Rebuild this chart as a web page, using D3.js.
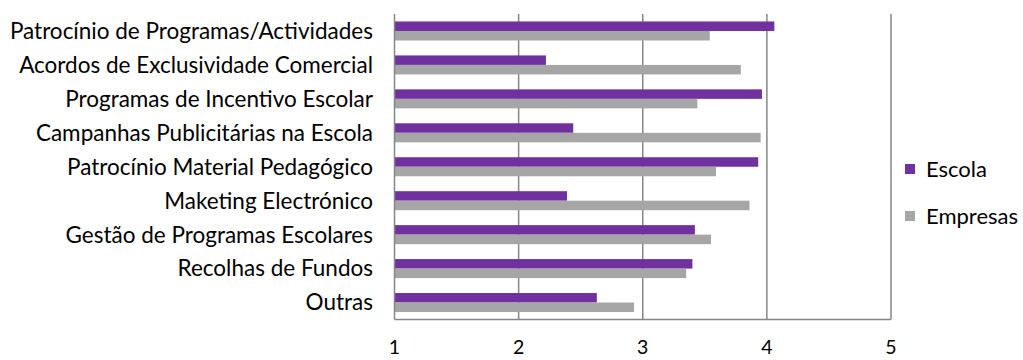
<!DOCTYPE html>
<html>
<head>
<meta charset="utf-8">
<script src="https://cdn.jsdelivr.net/npm/d3@7"></script>
<style>
  body { margin: 0; background: #fff; }
  svg { display: block; }
  text { font-family: Lato, "Open Sans", sans-serif; fill: #000; }
</style>
</head>
<body>
<svg id="chart" width="1023" height="360"></svg>
<script>
const categories = [
  "Patrocínio de Programas/Actividades",
  "Acordos de Exclusividade Comercial",
  "Programas de Incentivo Escolar",
  "Campanhas Publicitárias na Escola",
  "Patrocínio Material Pedagógico",
  "Maketing Electrónico",
  "Gestão de Programas Escolares",
  "Recolhas de Fundos",
  "Outras"
];
const seriesNames = ["Escola", "Empresas"];
const escola   = [4.06, 2.22, 3.96, 2.44, 3.93, 2.39, 3.42, 3.40, 2.63];
const empresas = [3.54, 3.79, 3.44, 3.95, 3.59, 3.86, 3.55, 3.35, 2.93];
const tickValues = [1, 2, 3, 4, 5];
const colors = ["#7030A0", "#A6A6A6"];

const svg = d3.select("#chart");
const plotL = 394.5, plotR = 891, plotT = 14, plotB = 319.5;

const x = d3.scaleLinear().domain([1, 5]).range([plotL, plotR]);
const y = d3.scaleBand().domain(categories).range([plotT, plotB]).paddingInner(0.44).paddingOuter(0.22);
const sub = d3.scaleBand().domain(seriesNames).range([0, y.bandwidth()]);

// vertical gridlines
svg.append("g").selectAll("line").data(tickValues.slice(1)).join("line")
  .attr("x1", d => x(d)).attr("x2", d => x(d))
  .attr("y1", plotT).attr("y2", plotB)
  .attr("stroke", "#868686").attr("stroke-width", 1.5);

// bars
const rows = categories.map((c, i) => ({ c, vals: [escola[i], empresas[i]] }));
const g = svg.append("g");
rows.forEach(r => {
  r.vals.forEach((v, j) => {
    g.append("rect")
      .attr("x", x(1))
      .attr("y", y(r.c) + sub(seriesNames[j]))
      .attr("width", x(v) - x(1))
      .attr("height", sub.bandwidth())
      .attr("fill", colors[j]);
  });
});

// axis lines
svg.append("line").attr("x1", plotL).attr("x2", plotL).attr("y1", plotT).attr("y2", plotB)
  .attr("stroke", "#868686").attr("stroke-width", 1.5);
svg.append("line").attr("x1", plotL).attr("x2", plotR).attr("y1", plotB).attr("y2", plotB)
  .attr("stroke", "#868686").attr("stroke-width", 1.5);

// category labels
svg.append("g").selectAll("text").data(categories).join("text")
  .attr("x", 373)
  .attr("y", d => y(d) + y.bandwidth() / 2)
  .attr("dy", "0.35em")
  .attr("text-anchor", "end")
  .attr("font-size", 22.5)
  .text(d => d);

// tick labels
svg.append("g").selectAll("text").data(tickValues).join("text")
  .attr("x", d => x(d))
  .attr("y", 354)
  .attr("text-anchor", "middle")
  .attr("font-size", 19.5)
  .text(d => d);

// legend
const legend = svg.append("g");
seriesNames.forEach((s, j) => {
  const ly = 169 + j * 47;
  legend.append("rect").attr("x", 905).attr("y", ly - 5).attr("width", 10).attr("height", 10).attr("fill", colors[j]);
  legend.append("text").attr("x", 926).attr("y", ly).attr("dy", "0.35em").attr("font-size", 22).text(s);
});
</script>
</body>
</html>
